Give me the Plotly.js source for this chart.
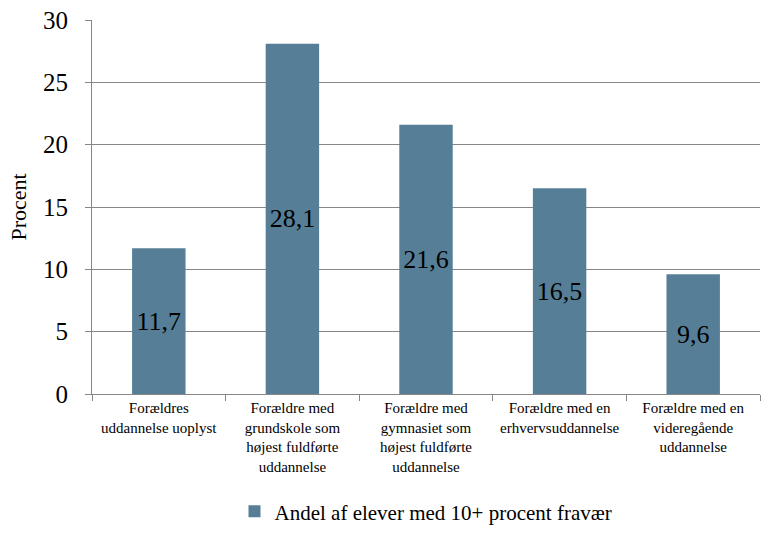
<!DOCTYPE html>
<html>
<head>
<meta charset="utf-8">
<script src="https://cdn.plot.ly/plotly-3.0.1.min.js"></script>
<style>
html,body{margin:0;padding:0;background:#fff;}
#chart{width:769px;height:533px;}
</style>
</head>
<body>
<div id="chart"></div>
<script>
const categories = [
  "Forældres<br>uddannelse uoplyst",
  "Forældre med<br>grundskole som<br>højest fuldførte<br>uddannelse",
  "Forældre med<br>gymnasiet som<br>højest fuldførte<br>uddannelse",
  "Forældre med en<br>erhvervsuddannelse",
  "Forældre med en<br>videregående<br>uddannelse"
];
const values = [11.7, 28.1, 21.6, 16.5, 9.6];
const valueLabels = ["11,7", "28,1", "21,6", "16,5", "9,6"];
const seriesName = "Andel af elever med 10+ procent fravær";
const yTicks = [0, 5, 10, 15, 20, 25, 30];

const serif = "Liberation Serif, serif";

const trace = {
  type: "bar",
  x: categories,
  y: values,
  name: seriesName,
  text: valueLabels,
  textposition: "inside",
  insidetextanchor: "middle",
  textfont: {family: serif, size: 26, color: "#000"},
  marker: {color: "#567F97"},
  width: 0.4,
  hoverinfo: "none"
};

const layout = {
  width: 769, height: 533,
  margin: {l: 92, r: 9, t: 20, b: 139},
  paper_bgcolor: "#fff", plot_bgcolor: "#fff",
  showlegend: true,
  font: {family: serif, color: "#000", size: 15},
  legend: {orientation: "h", x: 0.5, xanchor: "center", yref: "container", y: 0.04, yanchor: "middle",
           font: {family: serif, size: 21, color: "#000"}, itemwidth: 30},
  xaxis: {
    type: "category",
    tickson: "boundaries",
    ticks: "outside", ticklen: 6, tickcolor: "#868686",
    showline: true, linecolor: "#868686", linewidth: 1,
    showgrid: false,
    tickfont: {family: serif, size: 15, color: "#000"},
    tickangle: 0,
    automargin: false
  },
  yaxis: {
    range: [0, 30],
    tickvals: yTicks,
    ticktext: yTicks.map(String),
    ticks: "outside", ticklen: 6, tickcolor: "#868686",
    ticklabelstandoff: 12,
    showline: true, linecolor: "#868686", linewidth: 1,
    showgrid: true, gridcolor: "#868686", gridwidth: 1,
    zeroline: false,
    tickfont: {family: serif, size: 25, color: "#000"},
    title: {text: "Procent", font: {family: serif, size: 22, color: "#000"}, standoff: 10},
    automargin: false
  }
};

Plotly.newPlot("chart", [trace], layout, {displayModeBar: false, staticPlot: true});
</script>
</body>
</html>
